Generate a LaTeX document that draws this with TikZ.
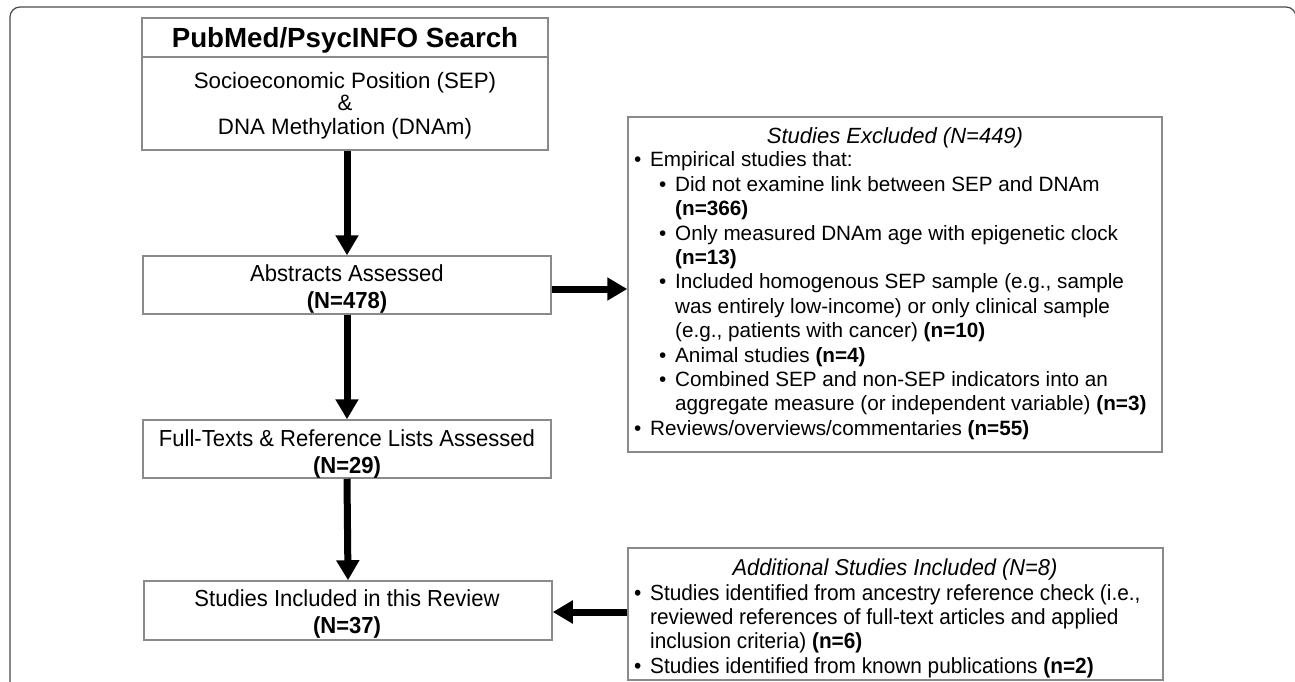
\documentclass[tikz,border=0pt]{standalone}
\usepackage{fontspec}
\setmainfont{Liberation Sans}
\newfontfamily\narrowfont[FakeStretch=0.95]{Liberation Sans}
\usetikzlibrary{arrows.meta}
\definecolor{boxgray}{HTML}{8A8A8A}
\definecolor{framegray}{HTML}{4A4A4A}
\begin{document}
\begin{tikzpicture}[x=1pt,y=-1pt,
  box/.style={draw=boxgray, line width=1.5pt, inner sep=0pt, fill=white},
  flow/.style={line width=7pt, -{Triangle[length=20pt,width=22pt]}},
  txt/.style={inner sep=0pt, anchor=base},
  ltxt/.style={inner sep=0pt, anchor=base west},
  exfont/.style={font=\fontsize{20.7pt}{24.4pt}\selectfont},
  nfont/.style={font=\narrowfont\fontsize{23.2pt}{27pt}\selectfont},
]
\useasboundingbox (0,0) rectangle (1295,681);
\draw[framegray, line width=1.2pt, rounded corners=10pt] (10,7) rectangle (1296,720);

% boxes
\node[box, minimum width=406pt, minimum height=132pt] (search) at (345,84) {};
\draw[boxgray, line width=1.5pt] (search.west |- 0,57) coordinate (dl) -- (search.east |- 0,57) coordinate (dr);
\node[box, minimum width=408pt, minimum height=58pt] (abs) at (347,285) {};
\node[box, minimum width=408pt, minimum height=58pt] (full) at (347,449) {};
\node[box, minimum width=408pt, minimum height=59pt] (inc) at (348,610.5) {};
\node[box, minimum width=534pt, minimum height=335pt] (excl) at (895,284.5) {};
\node[box, minimum width=535pt, minimum height=132pt] (add) at (895.5,614) {};

% top box text
\node[txt, font=\bfseries\fontsize{27.7pt}{30pt}\selectfont] (t0) at (345,47) {PubMed/PsycINFO Search};
\node[txt, font=\fontsize{22.3pt}{24pt}\selectfont] (t1) at (345,88) {Socioeconomic Position (SEP)};
\node[txt, font=\fontsize{22.3pt}{24pt}\selectfont] (t2) at (345,110) {\&};
\node[txt, font=\fontsize{22.3pt}{24pt}\selectfont] (t3) at (345,134) {DNA Methylation (DNAm)};

% flow box texts
\node[txt, nfont] (a1) at (347,281) {Abstracts Assessed};
\node[txt, nfont] (a2) at (347,308) {\bfseries (N=478)};
\node[txt, nfont] (f1) at (347,446) {Full-Texts \& Reference Lists Assessed};
\node[txt, nfont] (f2) at (347,473) {\bfseries (N=29)};
\node[txt, nfont] (s1) at (347,606) {Studies Included in this Review};
\node[txt, nfont] (s2) at (347,633) {\bfseries (N=37)};

% excluded text
\node[txt, font=\fontsize{22pt}{24.4pt}\selectfont] (et) at (895,143) {\itshape Studies Excluded (N=449)};
\node[ltxt, exfont] (el) at (634,166.8) {%
\begin{minipage}[t]{520pt}\fontsize{20.7pt}{24.4pt}\selectfont
\makebox[16pt][l]{•}Empirical studies that:\\
\hspace*{25pt}\makebox[16pt][l]{•}Did not examine link between SEP and DNAm\\
\hspace*{41pt}\textbf{(n=366)}\\
\hspace*{25pt}\makebox[16pt][l]{•}Only measured DNAm age with epigenetic clock\\
\hspace*{41pt}\textbf{(n=13)}\\
\hspace*{25pt}\makebox[16pt][l]{•}Included homogenous SEP sample (e.g., sample\\
\hspace*{41pt}was entirely low-income) or only clinical sample\\
\hspace*{41pt}(e.g., patients with cancer) \textbf{(n=10)}\\
\hspace*{25pt}\makebox[16pt][l]{•}Animal studies \textbf{(n=4)}\\
\hspace*{25pt}\makebox[16pt][l]{•}Combined SEP and non-SEP indicators into an\\
\hspace*{41pt}aggregate measure (or independent variable) \textbf{(n=3)}\\
\makebox[16pt][l]{•}Reviews/overviews/commentaries \textbf{(n=55)}
\end{minipage}};

% additional text
\node[txt, font=\narrowfont\fontsize{23pt}{24.4pt}\selectfont] (adt) at (895,575) {\itshape Additional Studies Included (N=8)};
\node[ltxt] (adl) at (634,600) {%
\begin{minipage}[t]{520pt}\narrowfont\fontsize{21.9pt}{24.4pt}\selectfont
\makebox[16pt][l]{•}Studies identified from ancestry reference check (i.e.,\\
\hspace*{16pt}reviewed references of full-text articles and applied\\
\hspace*{16pt}inclusion criteria) \textbf{(n=6)}\\
\makebox[16pt][l]{•}Studies identified from known publications \textbf{(n=2)}
\end{minipage}};

% arrows
\draw[flow] (search.south -| abs.north) -- (abs.north);
\draw[flow] (abs.south) -- (full.north);
\draw[flow] (full.south) -- (inc.north);
\draw[flow] (abs.east |- 0,289) -- (excl.west |- 0,289);
\draw[flow] (add.west |- 0,612) -- (inc.east |- 0,612);
\end{tikzpicture}
\end{document}
